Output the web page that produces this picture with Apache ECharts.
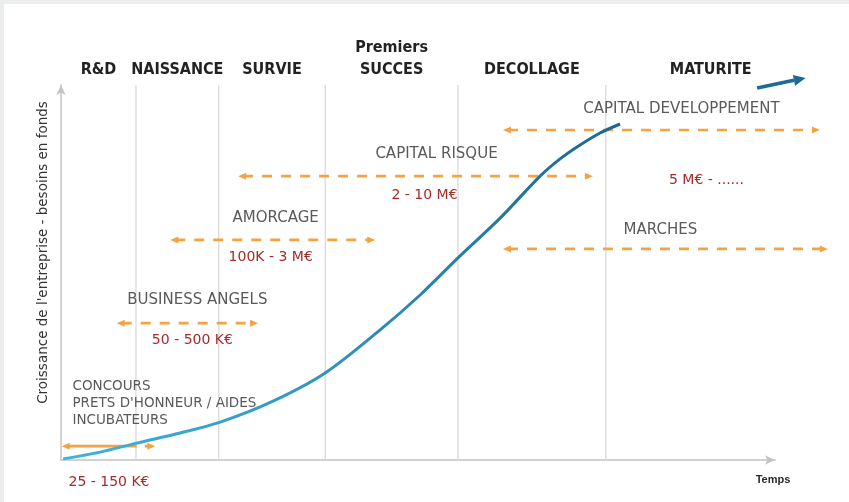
<!DOCTYPE html>
<html>
<head>
<meta charset="utf-8">
<script src="https://cdn.jsdelivr.net/npm/echarts@6/dist/echarts.min.js"></script>
<style>
  html, body { margin: 0; padding: 0; width: 849px; height: 502px; overflow: hidden; background: #eceeed; }
  #chart { position: absolute; left: 4px; top: 4px; width: 845px; height: 498px; background: #ffffff; }
</style>
</head>
<body>
<div id="chart"></div>
<script>
// Life-cycle stages and their boundaries on the time axis (0-100 scale)
const stageNames = ['R&D', 'NAISSANCE', 'SURVIE', 'Premiers\nSUCCES', 'DECOLLAGE', 'MATURITE'];
const stageBounds = [0, 10.5, 22.1, 37.0, 55.6, 76.3, 105.7];

// Company growth curve (time, growth)
const curveTime   = [0.3, 5.5, 10.6, 16.7, 22.3, 29.7, 37.0, 44.7, 50.3, 55.6, 61.5, 67.1, 69.9, 72.7, 75.5, 78.3];
const curveGrowth = [0.3, 2.1, 4.5, 7.2, 10.1, 15.7, 23.2, 34.7, 44.0, 53.9, 64.5, 75.7, 80.3, 84.0, 87.2, 89.6];

// Continuation of the growth beyond maturity
const trendFrom = [97.5, 99.2];
const trendTo   = [104.3, 101.9];

// Financing sources: name, typical amount, time span and funding level
const fundingNames = [
  "CONCOURS\nPRETS D'HONNEUR / AIDES\nINCUBATEURS",
  'BUSINESS ANGELS',
  'AMORCAGE',
  'CAPITAL RISQUE',
  'CAPITAL DEVELOPPEMENT',
  'MARCHES'
];
const fundingAmounts = ['25 - 150 K€', '50 - 500 K€', '100K - 3 M€', '2 - 10 M€', '5 M€ - ......', ''];
const fundingStart = [0.1, 7.8, 15.3, 24.8, 61.9, 61.9];
const fundingEnd   = [13.2, 27.6, 44.0, 74.5, 106.3, 107.4];
const fundingLevel = [3.7, 36.5, 58.7, 75.7, 88.0, 56.3];

// Text placement relative to the middle of each financing arrow (pixels)
const fundingLabelLayout = [
  { name: { dx: -36, dy: -43, align: 'left', size: 13.5, lh: 17 }, amount: { dx: -40, dy: 36, align: 'left' } },
  { name: { dx: 10, dy: -23, align: 'center', size: 15 }, amount: { dx: 5, dy: 17, align: 'center' } },
  { name: { dx: 3, dy: -22, align: 'center', size: 15 }, amount: { dx: -2, dy: 17, align: 'center' } },
  { name: { dx: 21, dy: -22, align: 'center', size: 15 }, amount: { dx: 9, dy: 19, align: 'center' } },
  { name: { dx: 20, dy: -21, align: 'center', size: 15 }, amount: { dx: 45, dy: 50, align: 'center' } },
  { name: { dx: -5, dy: -19, align: 'center', size: 15 }, amount: { dx: 0, dy: 0, align: 'center' } }
];
const fundingDash = [[70, 8], [10, 9], [10, 9], [10, 9], [10, 9], [10, 9]];

const ORANGE = '#f4a340';
const LABEL_GREY = '#5a5a5a';
const AMOUNT_RED = '#a52c2c';
const BODY_FONT = '"DejaVu Sans", Verdana, sans-serif';

const chart = echarts.init(document.getElementById('chart'), null, { renderer: 'canvas' });

function arrowHead(tip, dir, len, half, color) {
  return {
    type: 'polygon',
    shape: { points: [tip, [tip[0] - dir * len, tip[1] - half], [tip[0] - dir * len, tip[1] + half]] },
    style: { fill: color }
  };
}

const option = {
  animation: false,
  grid: { left: 57, top: 81, right: 74, bottom: 42, containLabel: false },
  xAxis: {
    type: 'value', min: 0, max: 100,
    name: 'Temps', nameLocation: 'end', nameGap: -2,
    nameTextStyle: { color: '#2a2a2a', fontSize: 11, fontFamily: 'Liberation Sans', fontWeight: 'bold',
                     align: 'center', verticalAlign: 'top', padding: [14, 0, 0, 0] },
    axisLine: { show: true, symbol: ['none', 'arrow'], symbolSize: [7, 10], lineStyle: { color: '#c4c4c4', width: 1.5 } },
    axisTick: { show: false }, axisLabel: { show: false }, splitLine: { show: false }
  },
  yAxis: {
    type: 'value', min: 0, max: 100,
    name: "Croissance de l'entreprise - besoins en fonds", nameLocation: 'middle', nameGap: 11, nameRotate: 90,
    nameTextStyle: { color: '#333', fontSize: 13.5, fontFamily: BODY_FONT, padding: [0, 0, 0, 40] },
    axisLine: { show: true, symbol: ['none', 'arrow'], symbolSize: [7, 10], lineStyle: { color: '#c4c4c4', width: 1.5 } },
    axisTick: { show: false }, axisLabel: { show: false }, splitLine: { show: false }
  },
  series: [
    {
      // stage separators and stage titles
      type: 'custom',
      silent: true,
      z: 1,
      data: stageNames.map((_, i) => [stageBounds[i], stageBounds[i + 1]]),
      encode: { x: [0, 1] },
      renderItem(params, api) {
        const i = params.dataIndex;
        const children = [];
        const x0 = api.value(0), x1 = api.value(1);
        const top = api.coord([(x0 + x1) / 2, 100]);
        if (i > 0) {
          const a = api.coord([x0, 0]);
          const b = api.coord([x0, 100]);
          children.push({ type: 'line', shape: { x1: a[0], y1: a[1], x2: b[0], y2: b[1] },
                          style: { stroke: '#d6d6d6', lineWidth: 1.2 } });
        }
        children.push({
          type: 'text', x: top[0], y: top[1] - 4,
          style: { text: stageNames[i], fill: '#222', align: 'center', verticalAlign: 'bottom',
                   font: 'bold 16px "Liberation Sans Narrow", "DejaVu Sans Condensed", sans-serif', lineHeight: 22 }
        });
        return { type: 'group', children };
      }
    },
    {
      // growth curve
      type: 'line',
      data: curveTime.map((t, i) => [t, curveGrowth[i]]),
      smooth: 0.3,
      symbol: 'none',
      z: 3,
      lineStyle: {
        width: 3,
        color: new echarts.graphic.LinearGradient(0, 1, 1, 0, [
          { offset: 0, color: '#3fb3dc' },
          { offset: 1, color: '#1c6791' }
        ])
      }
    },
    {
      // trend arrow beyond maturity
      type: 'custom',
      silent: true,
      z: 3,
      data: [[trendFrom[0], trendFrom[1], trendTo[0], trendTo[1]]],
      encode: { x: [0, 2], y: [1, 3] },
      renderItem(params, api) {
        const a = api.coord([api.value(0), api.value(1)]);
        const b = api.coord([api.value(2), api.value(3)]);
        const ang = Math.atan2(b[1] - a[1], b[0] - a[0]);
        const len = 12, half = 5.5;
        const base = [b[0] - Math.cos(ang) * len, b[1] - Math.sin(ang) * len];
        const nx = -Math.sin(ang) * half, ny = Math.cos(ang) * half;
        return {
          type: 'group',
          children: [
            { type: 'line', shape: { x1: a[0], y1: a[1], x2: base[0], y2: base[1] },
              style: { stroke: '#1d6a93', lineWidth: 3.5 } },
            { type: 'polygon', shape: { points: [b, [base[0] + nx, base[1] + ny], [base[0] - nx, base[1] - ny]] },
              style: { fill: '#1d6a93' } }
          ]
        };
      }
    },
    {
      // financing sources
      type: 'custom',
      silent: true,
      z: 2,
      data: fundingNames.map((_, i) => [fundingStart[i], fundingEnd[i], fundingLevel[i]]),
      encode: { x: [0, 1], y: 2 },
      renderItem(params, api) {
        const i = params.dataIndex;
        const lay = fundingLabelLayout[i];
        const p1 = api.coord([api.value(0), api.value(2)]);
        const p2 = api.coord([api.value(1), api.value(2)]);
        const mid = (p1[0] + p2[0]) / 2;
        const y = p1[1];
        const children = [
          { type: 'line', shape: { x1: p1[0] + 5, y1: y, x2: p2[0] - 5, y2: y },
            style: { stroke: ORANGE, lineWidth: 2.6, lineDash: fundingDash[i] } },
          arrowHead([p1[0], y], -1, 8, 3.5, ORANGE),
          arrowHead([p2[0], y], 1, 8, 3.5, ORANGE),
          {
            type: 'text', x: mid + lay.name.dx, y: y + lay.name.dy,
            style: { text: fundingNames[i], fill: LABEL_GREY, align: lay.name.align, verticalAlign: 'middle',
                     font: lay.name.size + 'px ' + BODY_FONT, lineHeight: lay.name.lh || 16 }
          }
        ];
        if (fundingAmounts[i]) {
          children.push({
            type: 'text', x: mid + lay.amount.dx, y: y + lay.amount.dy,
            style: { text: fundingAmounts[i], fill: AMOUNT_RED, align: lay.amount.align, verticalAlign: 'middle',
                     font: '14px ' + BODY_FONT }
          });
        }
        return { type: 'group', children };
      }
    }
  ]
};

chart.setOption(option);
</script>
</body>
</html>
